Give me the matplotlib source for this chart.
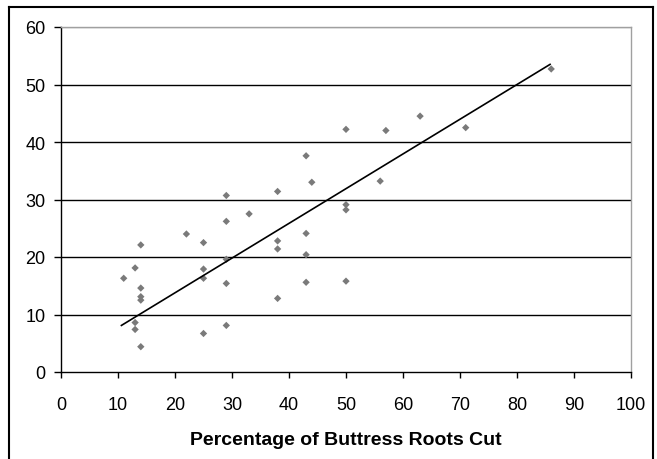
import numpy as np
import matplotlib
matplotlib.use("Agg")
import matplotlib.pyplot as plt
from matplotlib.lines import Line2D

x_pct = [11, 13, 14, 14, 14, 14, 13, 13, 14, 22, 25, 25, 25, 25, 29, 29, 29, 29, 29,
         33, 38, 38, 38, 38, 43, 44, 43, 43, 43, 50, 50, 50, 50, 56, 57, 63, 71, 86]
y_val = [16.3, 18.1, 22.1, 14.6, 13.1, 12.5, 8.6, 7.4, 4.4, 24.0, 22.5, 17.9, 16.3, 6.7,
         30.7, 26.2, 19.6, 15.4, 8.1, 27.5, 31.4, 22.8, 21.4, 12.8, 37.6, 33.0, 24.1, 20.4,
         15.6, 42.2, 29.1, 28.2, 15.8, 33.2, 42.0, 44.5, 42.5, 52.7]
trend_x = [10.6, 85.8]
trend_y = [8.1, 53.5]
x_ticks = list(range(0, 101, 10))
y_ticks = list(range(0, 61, 10))
x_label = "Percentage of Buttress Roots Cut"

plt.rcParams['font.family'] = ['Liberation Sans', 'DejaVu Sans']

fig = plt.figure(figsize=(6.57, 4.60), dpi=100)
ax = fig.add_axes([61/657, 87/460, 570/657, 345/460])

for yt in y_ticks[1:-1]:
    ax.axhline(yt, color='black', lw=1.0, zorder=1)
ax.axhline(60, color='#a0a0a0', lw=1.0, zorder=1)

ax.scatter(x_pct, y_val, marker='D', s=14, color='#7a7a7a', edgecolors='none', zorder=3)
ax.plot(trend_x, trend_y, color='black', lw=1.2, zorder=4)

ax.set_xlim(0, 100)
ax.set_ylim(0, 60)
ax.set_xticks(x_ticks)
ax.set_yticks(y_ticks)
ax.tick_params(axis='both', direction='out', width=1, labelsize=13, color='black')
ax.tick_params(axis='x', length=4, pad=13)
ax.tick_params(axis='y', length=5, pad=6)
for s in ['left', 'bottom']:
    ax.spines[s].set_color('black')
    ax.spines[s].set_linewidth(1.0)
for s in ['top', 'right']:
    ax.spines[s].set_color('#a0a0a0')
    ax.spines[s].set_linewidth(1.0)
ax.set_xlabel(x_label, fontsize=14, fontweight='bold', labelpad=13)

# outer frame
fig.add_artist(Line2D([9/657, 9/657], [0, 452/460], color='black', lw=1.5, transform=fig.transFigure))
fig.add_artist(Line2D([9/657, 653/657], [452/460, 452/460], color='black', lw=1.5, transform=fig.transFigure))
fig.add_artist(Line2D([653/657, 653/657], [0, 452/460], color='black', lw=1.5, transform=fig.transFigure))

fig.savefig("out.png", dpi=100)
